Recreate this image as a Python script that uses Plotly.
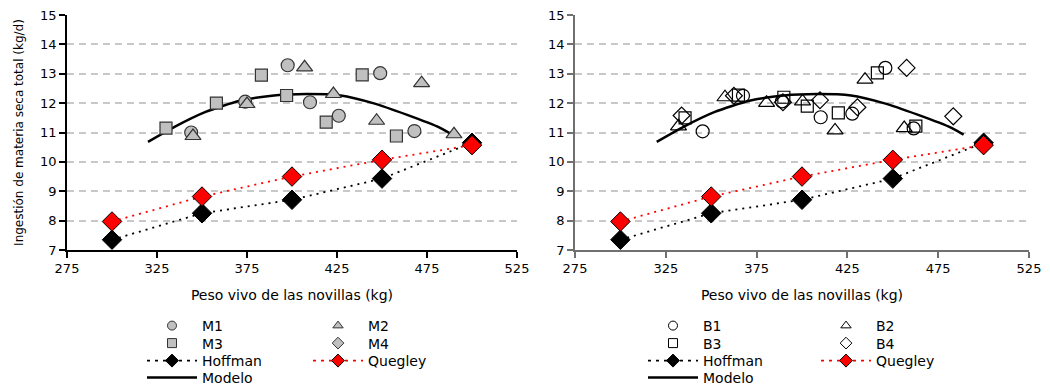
import plotly.graph_objects as go

# ---------------- data ----------------
# Left panel (M series)
m1_x = [344, 374, 397.6, 410, 426, 449, 468]
m1_y = [11.0, 12.05, 13.29, 12.03, 11.57, 13.02, 11.05]
m2_x = [345, 375, 407, 423, 447, 472, 490]
m2_y = [10.88, 11.97, 13.22, 12.31, 11.4, 12.68, 10.94]
m3_x = [330, 358, 383, 397, 419, 439, 458]
m3_y = [11.15, 12.0, 12.95, 12.26, 11.35, 12.96, 10.88]
m4_x = []
m4_y = []

# Right panel (B series)
b1_x = [345.3, 367.5, 389, 410.3, 427.7, 445.9, 461.5]
b1_y = [11.04, 12.25, 12.06, 11.52, 11.64, 13.2, 11.14]
b2_x = [332, 357.6, 380.5, 400.3, 418.2, 434.7, 456.3]
b2_y = [11.21, 12.2, 12.01, 12.06, 11.07, 12.8, 11.15]
b3_x = [335.6, 365, 390, 402.9, 420, 441.5, 462.7]
b3_y = [11.5, 12.27, 12.2, 11.9, 11.67, 13.03, 11.22]
b4_x = [333.7, 362.5, 389.5, 409.9, 430.5, 457.6, 483.3]
b4_y = [11.58, 12.25, 12.03, 12.1, 11.86, 13.2, 11.55]

# Reference equations
ref_x = [300, 350, 400, 450, 500]
hoffman_y = [7.35, 8.25, 8.71, 9.43, 10.65]
quegley_y = [7.97, 8.82, 9.50, 10.07, 10.57]

# Model curve
modelo_x = [320, 335, 352, 371, 390, 408, 427, 445, 464, 482, 489]
modelo_y = [10.68, 11.2, 11.7, 12.08, 12.26, 12.31, 12.26, 12.0, 11.6, 11.17, 10.93]

x_ticks = [275, 325, 375, 425, 475, 525]
y_ticks = [7, 8, 9, 10, 11, 12, 13, 14, 15]

x_title = "Peso vivo de las novillas (kg)"
y_title = "Ingestión de materia seca total (kg/d)"

FONT = "DejaVu Sans"
GRAY_FILL = "#c0c0c0"
EDGE = "#333333"

fig = go.Figure()

def add_panel(xa, ya, series, legends, filled):
    # model curve
    fig.add_trace(go.Scatter(x=modelo_x, y=modelo_y, mode="lines", xaxis=xa, yaxis=ya,
                             line=dict(color="black", width=2.5, shape="spline", smoothing=0.6),
                             showlegend=False, hoverinfo="skip"))
    # data points
    for (name, xs, ys, sym, size) in series:
        if filled:
            mk = dict(symbol=sym, size=size, color=GRAY_FILL, line=dict(color=EDGE, width=1.2))
        else:
            mk = dict(symbol=sym + "-open", size=size, color="black", line=dict(color="black", width=1.2))
        fig.add_trace(go.Scatter(x=xs, y=ys, mode="markers", xaxis=xa, yaxis=ya,
                                 marker=mk, showlegend=False))
    # Hoffman & Quegley
    fig.add_trace(go.Scatter(x=ref_x, y=hoffman_y, mode="lines+markers", xaxis=xa, yaxis=ya,
                             line=dict(color="black", width=1.8, dash="2px,5px"),
                             marker=dict(symbol="diamond", size=15, color="black",
                                         line=dict(color="black", width=1)),
                             showlegend=False))
    fig.add_trace(go.Scatter(x=ref_x, y=quegley_y, mode="lines+markers", xaxis=xa, yaxis=ya,
                             line=dict(color="red", width=1.8, dash="2px,5px"),
                             marker=dict(symbol="diamond", size=15, color="red",
                                         line=dict(color="black", width=1)),
                             showlegend=False))
    # legend entries
    for (lg, items) in legends:
        for (name, kind, sym) in items:
            if kind == "marker":
                if filled:
                    mk = dict(symbol=sym, size=9, color=GRAY_FILL, line=dict(color=EDGE, width=1))
                else:
                    mk = dict(symbol=sym + "-open", size=9, color="black", line=dict(color="black", width=1))
                fig.add_trace(go.Scatter(x=[None], y=[None], mode="markers", name=name,
                                         marker=mk, legend=lg, xaxis=xa, yaxis=ya))
            elif kind in ("hoff", "queg"):
                col = "black" if kind == "hoff" else "red"
                fig.add_trace(go.Scatter(x=[None], y=[None], mode="lines+markers", name=name,
                                         line=dict(color=col, width=1.8, dash="3px,5px"),
                                         marker=dict(symbol="diamond", size=10, color=col,
                                                     line=dict(color="black", width=1)),
                                         legend=lg, xaxis=xa, yaxis=ya))
            else:
                fig.add_trace(go.Scatter(x=[None], y=[None], mode="lines", name=name,
                                         line=dict(color="black", width=2.5),
                                         legend=lg, xaxis=xa, yaxis=ya))

add_panel("x", "y",
          [("M1", m1_x, m1_y, "circle", 13), ("M2", m2_x, m2_y, "triangle-up", 14),
           ("M3", m3_x, m3_y, "square", 12), ("M4", m4_x, m4_y, "diamond", 13)],
          [("legend", [("M1", "marker", "circle"), ("M2", "marker", "triangle-up")]),
           ("legend2", [("M3", "marker", "square"), ("M4", "marker", "diamond")]),
           ("legend3", [("Hoffman", "hoff", None), ("Quegley", "queg", None)]),
           ("legend4", [("Modelo", "line", None)])],
          True)
add_panel("x2", "y2",
          [("B1", b1_x, b1_y, "circle", 13), ("B2", b2_x, b2_y, "triangle-up", 14),
           ("B3", b3_x, b3_y, "square", 12), ("B4", b4_x, b4_y, "diamond", 13)],
          [("legend5", [("B1", "marker", "circle"), ("B2", "marker", "triangle-up")]),
           ("legend6", [("B3", "marker", "square"), ("B4", "marker", "diamond")]),
           ("legend7", [("Hoffman", "hoff", None), ("Quegley", "queg", None)]),
           ("legend8", [("Modelo", "line", None)])],
          False)

W, H = 1050, 387
ML, MR, MT, MB = 67, 21, 15, 137
PW = W - ML - MR
PH = H - MT - MB

def px_x(p):
    return (p - ML) / PW

def px_y(p):
    return (H - MB - p) / PH

axis_common = dict(ticks="outside", ticklen=6, tickwidth=1.5, showline=True, linewidth=1.5,
                   tickfont=dict(family=FONT, size=13, color="black"), zeroline=False)

fig.update_layout(
    width=W, height=H, margin=dict(l=ML, r=MR, t=MT, b=MB, autoexpand=False),
    plot_bgcolor="white", paper_bgcolor="white",
    font=dict(family=FONT, color="black"),
    xaxis=dict(domain=[0, px_x(517)], range=[275, 525], tickvals=x_ticks, showgrid=False,
               linecolor="black", tickcolor="black",
               title=dict(text=x_title, font=dict(family=FONT, size=14), standoff=15),
               anchor="y", **axis_common),
    yaxis=dict(domain=[0, 1], range=[7, 15], tickvals=y_ticks, showgrid=True,
               gridcolor="#c8c8c8", gridwidth=1.5, griddash="7px,5px",
               linecolor="black", tickcolor="black",
               title=dict(text=y_title, font=dict(family=FONT, size=12), standoff=14),
               anchor="x", **axis_common),
    xaxis2=dict(domain=[px_x(575), 1], range=[275, 525], tickvals=x_ticks, showgrid=False,
                linecolor="#707070", tickcolor="#707070",
                title=dict(text=x_title, font=dict(family=FONT, size=14), standoff=15),
                anchor="y2", **axis_common),
    yaxis2=dict(domain=[0, 1], range=[7, 15], tickvals=y_ticks, showgrid=True,
                gridcolor="#c8c8c8", gridwidth=1.5, griddash="7px,5px",
                linecolor="#707070", tickcolor="#707070",
                anchor="x2", **axis_common),
)

row_y = [326, 343.5, 361, 378]
def leg(xpx, ypx, ew):
    return dict(orientation="h", x=px_x(xpx), y=px_y(ypx), xanchor="left", yanchor="middle",
                entrywidth=ew, entrywidthmode="pixels", itemwidth=50,
                font=dict(family=FONT, size=14, color="black"),
                bgcolor="rgba(0,0,0,0)", borderwidth=0, tracegroupgap=0)

fig.update_layout(
    legend=leg(142, row_y[0], 101),
    legend2=leg(142, row_y[1], 101),
    legend3=leg(142, row_y[2], 101),
    legend4=leg(142, row_y[3], 101),
    legend5=leg(643, row_y[0], 108),
    legend6=leg(643, row_y[1], 108),
    legend7=leg(643, row_y[2], 108),
    legend8=leg(643, row_y[3], 108),
)

fig.write_html("out.html", config={"displayModeBar": False},
               post_script="document.body.style.margin='0';document.body.style.overflow='hidden';")
